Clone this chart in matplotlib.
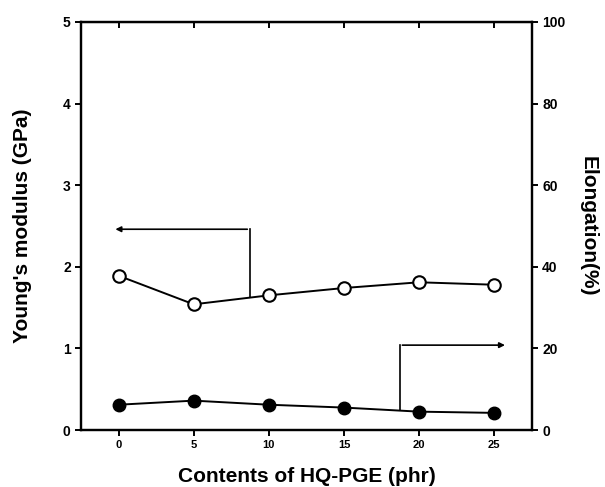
import matplotlib.pyplot as plt

# Datos
contents = [0, 5, 10, 15, 20, 25]  # phr de HQ-PGE
modulus = [1.89, 1.54, 1.65, 1.74, 1.81, 1.78]  # GPa (eje izquierdo)
elongation = [6.2, 7.2, 6.2, 5.5, 4.5, 4.2]  # % (eje derecho)

plt.rcParams['font.family'] = ['Liberation Sans', 'DejaVu Sans']
plt.rcParams['font.weight'] = 'bold'

fig = plt.figure(figsize=(6.05, 4.87), dpi=100)
ax = fig.add_axes([0.134, 0.117, 0.745, 0.838])
ax2 = ax.twinx()

ax.plot(contents, modulus, '-o', color='black', mfc='white', mec='black',
        ms=9, mew=1.5, lw=1.4)
ax2.plot(contents, elongation, '-o', color='black', mfc='black',
         ms=9, lw=1.4)

ax.set_xlim(-2.5, 27.5)
ax.set_ylim(0, 5)
ax2.set_ylim(0, 100)
ax.set_xticks(contents)
ax.set_yticks([0, 1, 2, 3, 4, 5])
ax2.set_yticks([0, 20, 40, 60, 80, 100])

for a in (ax, ax2):
    for s in a.spines.values():
        s.set_linewidth(1.6)
ax.tick_params(axis='x', direction='out', length=4, width=1.4, labelsize=8, top=False)
ax.tick_params(axis='y', direction='out', length=4, width=1.4, labelsize=10)
ax2.tick_params(axis='y', direction='out', length=4, width=1.4, labelsize=10)

# ticks superiores hacia dentro
secx = ax.secondary_xaxis('top')
secx.set_xticks(contents)
secx.tick_params(direction='in', length=4, width=1.4, labeltop=False)

ax.set_xlabel('Contents of HQ-PGE (phr)', fontsize=15, fontweight='bold', labelpad=12)
ax.set_ylabel("Young's modulus (GPa)", fontsize=15, fontweight='bold', labelpad=22)
ax2.set_ylabel('Elongation(%)', fontsize=15, fontweight='bold', rotation=-90, labelpad=23)

# flechas indicando el eje de cada serie
ax.plot([8.75, 8.75], [1.63, 2.46], color='black', lw=1.2)
ax.annotate('', xy=(-0.4, 2.46), xytext=(8.75, 2.46),
            arrowprops=dict(arrowstyle='-|>', color='black', lw=1.2, mutation_scale=8))
ax.plot([18.7, 18.7], [0.245, 1.04], color='black', lw=1.2)
ax.annotate('', xy=(25.9, 1.04), xytext=(18.7, 1.04),
            arrowprops=dict(arrowstyle='-|>', color='black', lw=1.2, mutation_scale=8))

fig.savefig('out.png', dpi=100)
